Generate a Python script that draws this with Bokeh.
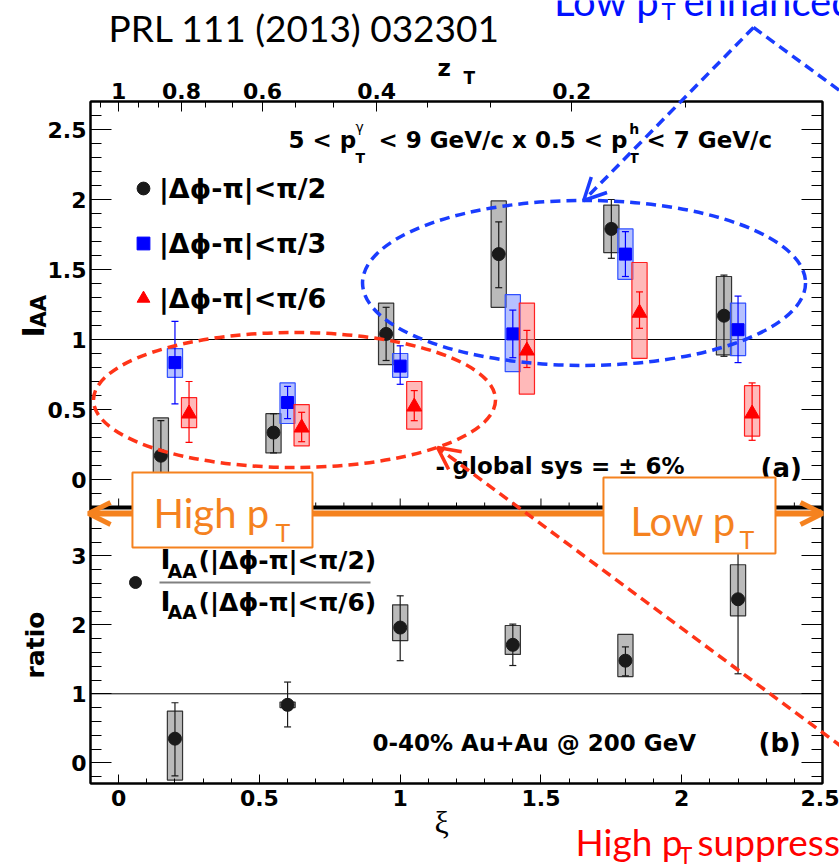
import math
from bokeh.plotting import figure
from bokeh.models import (Range1d, LinearAxis, FixedTicker, Span, Label, Arrow, OpenHead,
                          BoxAnnotation, Legend, LegendItem, CustomJSTickFormatter)
from bokeh.embed import file_html
from bokeh.resources import INLINE

# ---------------- data ----------------
xi_pi2 = [0.15, 0.55, 0.95, 1.35, 1.75, 2.15]
iaa_pi2 = [0.17, 0.335, 1.04, 1.61, 1.79, 1.17]
stat_lo_pi2 = [-0.08, 0.19, 0.85, 1.37, 1.58, 0.88]
stat_hi_pi2 = [0.42, 0.47, 1.23, 1.84, 2.00, 1.46]
sys_lo_pi2 = [-0.10, 0.19, 0.82, 1.23, 1.62, 0.89]
sys_hi_pi2 = [0.44, 0.47, 1.26, 1.99, 1.96, 1.45]

xi_pi3 = [0.20, 0.60, 1.00, 1.40, 1.80, 2.20]
iaa_pi3 = [0.835, 0.55, 0.81, 1.04, 1.61, 1.07]
stat_lo_pi3 = [0.54, 0.435, 0.68, 0.87, 1.45, 0.835]
stat_hi_pi3 = [1.13, 0.665, 0.955, 1.21, 1.77, 1.31]
sys_lo_pi3 = [0.73, 0.40, 0.73, 0.77, 1.43, 0.885]
sys_hi_pi3 = [0.935, 0.69, 0.90, 1.32, 1.79, 1.26]

xi_pi6 = [0.25, 0.65, 1.05, 1.45, 1.85, 2.25]
iaa_pi6 = [0.47, 0.37, 0.52, 0.92, 1.19, 0.47]
stat_lo_pi6 = [0.265, 0.27, 0.42, 0.80, 1.08, 0.28]
stat_hi_pi6 = [0.70, 0.48, 0.635, 1.065, 1.34, 0.69]
sys_lo_pi6 = [0.37, 0.24, 0.36, 0.61, 0.865, 0.31]
sys_hi_pi6 = [0.585, 0.535, 0.70, 1.26, 1.55, 0.67]

xi_ratio = [0.20, 0.60, 1.00, 1.40, 1.80, 2.20]
ratio = [0.35, 0.84, 1.96, 1.71, 1.48, 2.37]
ratio_stat_lo = [-0.19, 0.52, 1.48, 1.41, 1.26, 1.29]
ratio_stat_hi = [0.87, 1.17, 2.42, 2.01, 1.68, 3.45]
ratio_sys_lo = [-0.25, 0.80, 1.77, 1.57, 1.25, 2.13]
ratio_sys_hi = [0.75, 0.88, 2.29, 1.99, 1.86, 2.87]

legend_labels = ["|Δϕ-π|<π/2", "|Δϕ-π|<π/3", "|Δϕ-π|<π/6"]

xi_ticks = [0, 0.5, 1, 1.5, 2, 2.5]
xi_tick_labels = ["0", "0.5", "1", "1.5", "2", "2.5"]
zt_ticks = [1.0, 0.8, 0.6, 0.4, 0.2]
zt_tick_labels = ["1", "0.8", "0.6", "0.4", "0.2"]
zt_minor = [1.0667, 0.9333, 0.8667, 0.7333, 0.6667, 0.5333, 0.4667, 0.3333, 0.2667, 0.1333]
iaa_ticks = [0, 0.5, 1, 1.5, 2, 2.5]
iaa_tick_labels = ["0", "0.5", "1", "1.5", "2", "2.5"]
ratio_ticks = [0, 1, 2, 3]
ratio_tick_labels = ["0", "1", "2", "3"]

# ---------------- layout of the two stacked panels ----------------
W, H = 839, 866
BL, BR, BT, BB = 90, 17, 101, 83
FW, FH = W - BL - BR, H - BT - BB
XR = (-0.1, 2.5)
UP = (-0.2, 2.7)     # I_AA panel
LO = (-0.3, 3.7)     # ratio panel
UP_PX = 406
LO_PX = FH - UP_PX
k_up = UP_PX / (UP[1] - UP[0])
k_lo = LO_PX / (LO[1] - LO[0])
k_x = FW / (XR[1] - XR[0])
main_start = UP[0] - LO_PX / k_up
lower_end = LO[1] + UP_PX / k_lo


def lower_to_main(w):
    return main_start + (w - LO[0]) * k_lo / k_up


def extend(r, lo_px, hi_px, span_px):
    s = (r[1] - r[0]) / span_px
    return (r[0] - lo_px * s, r[1] + hi_px * s)


p = figure(width=W, height=H, x_range=Range1d(*XR), y_range=Range1d(main_start, UP[1]),
           output_backend="svg", toolbar_location=None,
           min_border_left=BL, min_border_right=BR, min_border_top=BT, min_border_bottom=BB)
p.extra_y_ranges = {"lower": Range1d(LO[0], lower_end)}
p.xgrid.visible = False
p.ygrid.visible = False
p.outline_line_color = "black"
p.outline_line_width = 2
p.background_fill_color = "white"
p.border_fill_color = "white"

# transparent overlay sharing the same data coordinates, covering the whole page
ov = figure(width=W, height=H, x_range=Range1d(*extend(XR, BL, BR, FW)),
            y_range=Range1d(*extend((main_start, UP[1]), BB, BT, FH)),
            output_backend="svg", toolbar_location=None, min_border=0,
            x_axis_location=None, y_axis_location=None)
ov.extra_y_ranges = {"lower": Range1d(*extend((LO[0], lower_end), BB, BT, FH))}
ov.xgrid.visible = False
ov.ygrid.visible = False
ov.outline_line_color = None
ov.background_fill_alpha = 0
ov.border_fill_alpha = 0
ov.styles = {"position": "absolute", "left": "0px", "top": "0px"}

TICKFONT = "DejaVu Sans"


def style_axis(ax, maj_in, min_in, standoff):
    ax.major_tick_in = maj_in
    ax.major_tick_out = 0
    ax.minor_tick_in = min_in
    ax.minor_tick_out = 0
    ax.major_label_standoff = standoff
    ax.major_label_text_font = TICKFONT
    ax.major_label_text_font_style = "bold"
    ax.major_label_text_font_size = "22px"
    ax.major_label_text_color = "black"
    ax.axis_line_width = 2
    ax.major_tick_line_width = 1
    ax.minor_tick_line_width = 1
    ax.major_tick_line_color = "black"
    ax.minor_tick_line_color = "black"


up_minor = [round(UP[0] + 0.1 * i, 2) for i in range(30)]
up_minor = [v for v in up_minor if v not in iaa_ticks]
lo_minor = [round(-0.2 + 0.2 * i, 2) for i in range(20)]
lo_minor = [v for v in lo_minor if abs(v - round(v)) > 1e-6]
y_major = list(iaa_ticks) + [lower_to_main(w) for w in ratio_ticks]
y_minor = up_minor + [lower_to_main(w) for w in lo_minor]
y_labels = dict(zip(y_major, iaa_tick_labels + ratio_tick_labels))
yticker = FixedTicker(ticks=y_major, minor_ticks=y_minor)

ly = p.yaxis[0]
ly.ticker = yticker
ly.major_label_overrides = y_labels
style_axis(ly, 21, 11, 4)

ry = LinearAxis(ticker=yticker, formatter=CustomJSTickFormatter(code="return ''"))
style_axis(ry, 21, 11, 2)
p.add_layout(ry, "right")

x_minor = [round(-0.1 + 0.1 * i, 2) for i in range(27)]
x_minor = [v for v in x_minor if v not in xi_ticks]
bx = p.xaxis[0]
bx.ticker = FixedTicker(ticks=xi_ticks, minor_ticks=x_minor)
bx.major_label_overrides = dict(zip(xi_ticks, xi_tick_labels))
style_axis(bx, 9, 5, 6)

zt_pos = [-math.log(z) for z in zt_ticks]
zt_minor_pos = [-math.log(z) for z in zt_minor]
tx = LinearAxis(ticker=FixedTicker(ticks=zt_pos, minor_ticks=zt_minor_pos))
tx.major_label_overrides = dict(zip(zt_pos, zt_tick_labels))
style_axis(tx, 10, 6, 3)
p.add_layout(tx, "above")

# panel separation line and its ticks
p.add_layout(Span(location=UP[0], dimension="width", line_color="black", line_width=4, level="underlay"))
p.segment(x0=xi_ticks, x1=xi_ticks, y0=[UP[0]] * len(xi_ticks),
          y1=[UP[0] + 9 / k_up] * len(xi_ticks), line_color="black", line_width=1)
p.segment(x0=x_minor, x1=x_minor, y0=[UP[0]] * len(x_minor),
          y1=[UP[0] + 5 / k_up] * len(x_minor), line_color="black", line_width=1)

# reference lines at 1
p.add_layout(Span(location=1, dimension="width", line_color="black", line_width=1, level="underlay"))
p.add_layout(Span(location=1, dimension="width", line_color="black", line_width=1,
                  level="underlay", y_range_name="lower"))

HALF = 0.027


def series(xs, y, slo, shi, ylo, yhi, color, bfill, bline, marker, size, yr="default"):
    p.quad(left=[x - HALF for x in xs], right=[x + HALF for x in xs], bottom=ylo, top=yhi,
           fill_color=bfill, fill_alpha=0.6, line_color=bline, line_width=1.2, y_range_name=yr)
    p.segment(x0=xs, x1=xs, y0=slo, y1=shi, line_color=color, line_width=1.2, y_range_name=yr)
    p.scatter(xs, shi, marker="dash", size=7, line_color=color, line_width=1.2, y_range_name=yr)
    p.scatter(xs, slo, marker="dash", size=7, line_color=color, line_width=1.2, y_range_name=yr)
    return p.scatter(xs, y, marker=marker, size=size, fill_color=color, line_color=color,
                     y_range_name=yr)


r2 = series(xi_pi2, iaa_pi2, stat_lo_pi2, stat_hi_pi2, sys_lo_pi2, sys_hi_pi2,
            "#1a1a1a", "#8c8c8c", "#333333", "circle", 13)
r3 = series(xi_pi3, iaa_pi3, stat_lo_pi3, stat_hi_pi3, sys_lo_pi3, sys_hi_pi3,
            "#0000ff", "#8598ff", "#3050ff", "square", 12)
r6 = series(xi_pi6, iaa_pi6, stat_lo_pi6, stat_hi_pi6, sys_lo_pi6, sys_hi_pi6,
            "#ff0000", "#ff8a8a", "#ff2020", "triangle", 15)
rr = series(xi_ratio, ratio, ratio_stat_lo, ratio_stat_hi, ratio_sys_lo, ratio_sys_hi,
            "#1a1a1a", "#8c8c8c", "#333333", "circle", 13, yr="lower")

BLUE = "#1a3cff"
RED = "#ff3418"
ORANGE = "#f5821f"

# legends
leg = Legend(items=[LegendItem(label=legend_labels[0], renderers=[r2]),
                    LegendItem(label=legend_labels[1], renderers=[r3]),
                    LegendItem(label=legend_labels[2], renderers=[r6])],
             location=(37, 469), glyph_width=32, glyph_height=32, label_height=32,
             spacing=23, padding=0, margin=0, label_standoff=-4,
             background_fill_alpha=0, border_line_alpha=0, label_text_color="black",
             label_text_font=TICKFONT, label_text_font_style="bold", label_text_font_size="27px")
p.add_layout(leg)
leg2 = Legend(items=[LegendItem(label=" ", renderers=[rr])],
              location=(30, 186), glyph_width=30, glyph_height=30, label_height=30,
              padding=0, margin=0, label_standoff=0,
              background_fill_alpha=0, border_line_alpha=0, label_text_font_size="10px")
p.add_layout(leg2)

# ---------------- overlay: texts and slide annotations ----------------
ov.ellipse(x=[1.653], y=[1.404], width=[1.5735], height=[1.179], fill_color=None,
           line_color=BLUE, line_width=3.5, line_dash="10 6")
ov.ellipse(x=[0.6246], y=[0.568], width=[1.428], height=[0.964], fill_color=None,
           line_color=RED, line_width=3.5, line_dash="10 6")

BASE_FIX = 0.32   # em offset between requested and drawn alphabetic baseline


def lab(text, x, y, size, font=TICKFONT, style="bold", color="black", align="left",
        angle=0.0, yr="default"):
    d = BASE_FIX * size
    if angle == 0.0:
        y += d / (k_up if yr == "default" else k_lo)
    else:
        x -= d / k_x
    ov.add_layout(Label(x=x, y=y, text=text, text_font=font, text_font_style=style,
                        text_font_size=f"{size}px", text_color=color, text_align=align,
                        text_baseline="alphabetic", angle=angle, y_range_name=yr))


# title and axis titles
lab("PRL 111 (2013) 032301", -0.036, 3.143, 37, font="Lato", style="normal")
lab("z", 1.1325, 2.886, 23)
lab("T", 1.225, 2.829, 17)
lab("I", -0.267, 1.014, 30, angle=math.pi / 2)
lab("AA", -0.260, 1.086, 21, angle=math.pi / 2)
lab("ratio", -0.267, 1.222, 25, angle=math.pi / 2, yr="lower")
lab("ξ", 1.147, -2.521, 32, font="Liberation Serif", style="normal", align="center")

# panel (a) texts
lab("5 < p", 0.603, 2.371, 23)
lab("T", 0.841, 2.264, 14)
lab("γ", 0.841, 2.486, 14, style="normal")
lab("< 9 GeV/c x 0.5 < p", 1.807, 2.371, 23, align="right")
lab("h", 1.814, 2.471, 14)
lab("T", 1.814, 2.264, 14)
lab("< 7 GeV/c", 1.875, 2.371, 23)
lab("-", 1.125, 0.043, 23)
lab("global sys = ± 6%", 1.186, 0.043, 23)
lab("(a)", 2.280, 0.021, 26)

# panel (b) texts
lab("I", 0.1486, 2.816, 27, yr="lower")
lab("AA", 0.1735, 2.686, 19, yr="lower")
lab("(|Δϕ-π|<π/2)", 0.2836, 2.816, 25, yr="lower")
lab("I", 0.1486, 2.207, 27, yr="lower")
lab("AA", 0.1735, 2.091, 19, yr="lower")
lab("(|Δϕ-π|<π/6)", 0.2836, 2.207, 25, yr="lower")
ov.add_layout(Arrow(x_start=0.145, y_start=2.613, x_end=0.8946, y_end=2.613, start=None, end=None,
                    line_color="#808080", line_width=2, y_range_name="lower"))
lab("0-40% Au+Au @ 200 GeV", 0.9016, 0.178, 23, yr="lower")
lab("(b)", 2.273, 0.164, 26, yr="lower")

# orange high/low pT arrow and boxes
ov.add_layout(Arrow(x_start=-0.107, y_start=-0.243, x_end=2.5, y_end=-0.243,
                    line_color=ORANGE, line_width=6,
                    start=OpenHead(size=22, line_color=ORANGE, line_width=5),
                    end=OpenHead(size=22, line_color=ORANGE, line_width=5)))
ov.add_layout(BoxAnnotation(left=0.049, right=0.6885, top=0.05, bottom=-0.486,
                            fill_color="white", fill_alpha=1, line_color=ORANGE,
                            line_alpha=1, line_width=2))
ov.add_layout(BoxAnnotation(left=1.722, right=2.333, top=0.014, bottom=-0.529,
                            fill_color="white", fill_alpha=1, line_color=ORANGE,
                            line_alpha=1, line_width=2))
lab("High p", 0.1238, -0.329, 40, font="Lato", style="normal", color=ORANGE)
lab("T", 0.557, -0.429, 25, font="Lato", style="normal", color=ORANGE)
lab("Low p", 1.818, -0.386, 40, font="Lato", style="normal", color=ORANGE)
lab("T", 2.205, -0.479, 25, font="Lato", style="normal", color=ORANGE)

# blue / red callouts
lab("Low p", 1.921, 3.329, 40, font="Lato", style="normal", color="#0010ff", align="right")
lab("T", 1.928, 3.293, 24, font="Lato", style="normal", color="#0010ff")
lab("enhanced", 2.006, 3.329, 40, font="Lato", style="normal", color="#0010ff")
lab("High p", 1.623, -2.671, 37, font="Lato", style="normal", color="#ff0000")
lab("T", 1.989, -2.736, 23, font="Lato", style="normal", color="#ff0000")
lab("suppressed", 2.056, -2.671, 37, font="Lato", style="normal", color="#ff0000")

ov.add_layout(Arrow(x_start=2.255, y_start=3.229, x_end=1.652, y_end=1.993,
                    line_color=BLUE, line_width=3.5, line_dash="10 6",
                    end=OpenHead(size=22, line_color=BLUE, line_width=3.5)))
ov.add_layout(Arrow(x_start=2.255, y_start=3.229, x_end=2.706, y_end=2.564,
                    line_color=BLUE, line_width=3.5, line_dash="10 6", end=None))
ov.add_layout(Arrow(x_start=2.706, y_start=-2.114, x_end=1.1325, y_end=0.229,
                    line_color=RED, line_width=3.5, line_dash="10 6",
                    end=OpenHead(size=22, line_color=RED, line_width=3.5)))

open("out.html", "w").write(file_html([p, ov], INLINE))
